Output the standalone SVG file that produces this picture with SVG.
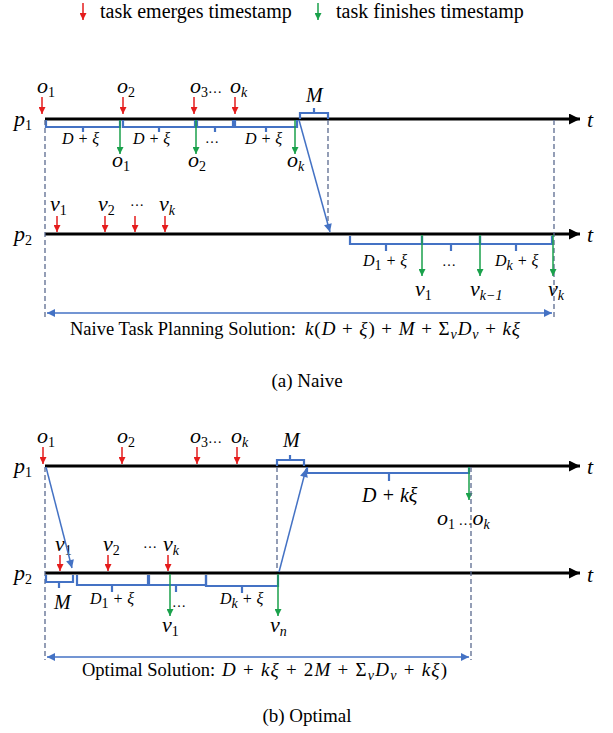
<svg xmlns="http://www.w3.org/2000/svg" width="613" height="733" viewBox="0 0 613 733">
<style>
text{font-family:"Liberation Serif","Times New Roman",serif;fill:#000}
.m{font-style:italic;font-size:22px}
.ms{font-style:italic;font-size:16px}
.ml{font-style:italic;font-size:20px}
.sub{font-style:normal;font-size:14px}
.subi{font-style:italic;font-size:14px}
.cap{font-size:18.5px}
.capm{font-size:19px}
.leg{font-size:20px}
.axis{stroke:#000;stroke-width:3;fill:none}
.red{stroke:#e51c1c;stroke-width:1.5;fill:none}
.grn{stroke:#1aa14b;stroke-width:1.5;fill:none}
.blue{stroke:#4472c4;stroke-width:1.5;fill:none}
.brace{stroke:#4472c4;stroke-width:2.2;fill:none}
.dash{stroke:#5b6a8f;stroke-width:1.3;stroke-dasharray:5 3;fill:none}
</style>
<defs>
<marker id="aR" viewBox="0 0 10 10" refX="10" refY="5" markerWidth="7" markerHeight="7" markerUnits="userSpaceOnUse" orient="auto"><path d="M0 0L10 5L0 10z" fill="#e51c1c"/></marker>
<marker id="aG" viewBox="0 0 10 10" refX="10" refY="5" markerWidth="7" markerHeight="7" markerUnits="userSpaceOnUse" orient="auto"><path d="M0 0L10 5L0 10z" fill="#1aa14b"/></marker>
<marker id="aB" viewBox="0 0 10 10" refX="10" refY="5" markerWidth="9" markerHeight="8" markerUnits="userSpaceOnUse" orient="auto-start-reverse"><path d="M0 0L10 5L0 10z" fill="#4472c4"/></marker>
<marker id="aK" viewBox="0 0 10 10" refX="10" refY="5" markerWidth="14" markerHeight="11" markerUnits="userSpaceOnUse" orient="auto"><path d="M0 0L10 5L0 10z" fill="#000"/></marker>
</defs>

<g id="legend">
<line class="red" x1="83" y1="3" x2="83" y2="20" marker-end="url(#aR)"/>
<text class="leg" x="100" y="18">task emerges timestamp</text>
<line class="grn" x1="318" y1="3" x2="318" y2="20" marker-end="url(#aG)"/>
<text class="leg" x="336" y="18">task finishes timestamp</text>
</g>

<g id="panel-a">
<g id="a-p1">
<line class="axis" x1="45" y1="119" x2="580" y2="119" marker-end="url(#aK)"/>
<text class="m" x="14" y="126">p<tspan class="sub" dy="4">1</tspan></text>
<text class="m" x="587" y="127">t</text>
<text class="m" x="37" y="93">o<tspan class="sub" dy="4">1</tspan></text>
<text class="m" x="117" y="93">o<tspan class="sub" dy="4">2</tspan></text>
<text class="m" x="190" y="93">o<tspan class="sub" dy="4">3</tspan><tspan class="sub" dy="-4">…</tspan></text>
<text class="m" x="230" y="93">o<tspan class="subi" dy="4">k</tspan></text>
<text class="ms" x="62" y="144">D + ξ</text>
<text class="ms" x="133" y="144">D + ξ</text>
<text class="sub" x="205" y="143">…</text>
<text class="ms" x="245" y="144">D + ξ</text>
<text class="m" x="112" y="167">o<tspan class="sub" dy="4">1</tspan></text>
<text class="m" x="188" y="167">o<tspan class="sub" dy="4">2</tspan></text>
<text class="m" x="287" y="167">o<tspan class="subi" dy="4">k</tspan></text>
<text class="ml" x="306" y="102">M</text>
</g>
<g id="a-p2">
<line class="axis" x1="45" y1="234" x2="580" y2="234" marker-end="url(#aK)"/>
<text class="m" x="14" y="241">p<tspan class="sub" dy="4">2</tspan></text>
<text class="m" x="587" y="242">t</text>
<text class="m" x="50" y="211">v<tspan class="sub" dy="4">1</tspan></text>
<text class="m" x="98" y="211">v<tspan class="sub" dy="4">2</tspan></text>
<text class="sub" x="130" y="206">…</text>
<text class="m" x="159" y="211">v<tspan class="subi" dy="4">k</tspan></text>
<text class="ms" x="363" y="266">D<tspan class="sub" dy="4">1</tspan><tspan dy="-4"> + ξ</tspan></text>
<text class="sub" x="442" y="266">…</text>
<text class="ms" x="495" y="266">D<tspan class="subi" dy="4">k</tspan><tspan dy="-4"> + ξ</tspan></text>
<text class="m" x="415" y="296">v<tspan class="sub" dy="4">1</tspan></text>
<text class="m" x="470" y="296">v<tspan class="subi" dy="4">k−1</tspan></text>
<text class="m" x="548" y="296">v<tspan class="subi" dy="4">k</tspan></text>
</g>
<g id="a-total">
<text class="cap" x="70" y="335">Naive Task Planning Solution:</text>
<text class="capm" x="305" y="335" textLength="215" lengthAdjust="spacing"><tspan font-style="italic">k</tspan>(<tspan font-style="italic">D</tspan> + <tspan font-style="italic">ξ</tspan>) + <tspan font-style="italic">M</tspan> + Σ<tspan class="subi" dy="4">v</tspan><tspan font-style="italic" dy="-4">D</tspan><tspan class="subi" dy="4">v</tspan><tspan dy="-4"> + </tspan><tspan font-style="italic">kξ</tspan></text>
<text class="capm" x="307" y="387" text-anchor="middle">(a)  Naive</text>
</g>
</g>

<g id="connectors-a">
<line class="red" x1="42" y1="97" x2="42" y2="114" marker-end="url(#aR)"/>
<line class="red" x1="123" y1="97" x2="123" y2="114" marker-end="url(#aR)"/>
<line class="red" x1="194" y1="97" x2="194" y2="114" marker-end="url(#aR)"/>
<line class="red" x1="235" y1="97" x2="235" y2="114" marker-end="url(#aR)"/>
<path class="brace" d="M46 120V127H120V120M83 127V132"/>
<path class="brace" d="M123 120V127H195V120M159 127V132"/>
<path class="brace" d="M197 120V127H233V120M215 127V132"/>
<path class="brace" d="M235 120V127H297V120M266 127V132"/>
<line class="grn" x1="120" y1="120" x2="120" y2="154" marker-end="url(#aG)"/>
<line class="grn" x1="196" y1="120" x2="196" y2="154" marker-end="url(#aG)"/>
<line class="grn" x1="295" y1="120" x2="295" y2="154" marker-end="url(#aG)"/>
<path class="brace" d="M300 119V113H328V119M314 113V108"/>
<line class="dash" x1="328" y1="120" x2="328" y2="233"/>
<line class="dash" x1="554" y1="120" x2="554" y2="317"/>
<line class="dash" x1="45" y1="120" x2="45" y2="317"/>
<line class="blue" x1="299" y1="120" x2="330" y2="232" marker-end="url(#aB)"/>
<line class="red" x1="57" y1="216" x2="57" y2="232" marker-end="url(#aR)"/>
<line class="red" x1="105" y1="216" x2="105" y2="232" marker-end="url(#aR)"/>
<line class="red" x1="135" y1="216" x2="135" y2="232" marker-end="url(#aR)"/>
<line class="red" x1="165" y1="216" x2="165" y2="232" marker-end="url(#aR)"/>
<path class="brace" d="M350 236V244H422V236M386 244V251"/>
<path class="brace" d="M422 236V244H480V236M451 244V251"/>
<path class="brace" d="M480 236V244H552V236M516 244V251"/>
<line class="grn" x1="422" y1="235" x2="422" y2="276" marker-end="url(#aG)"/>
<line class="grn" x1="480" y1="235" x2="480" y2="276" marker-end="url(#aG)"/>
<line class="grn" x1="553" y1="235" x2="553" y2="276" marker-end="url(#aG)"/>
<line class="blue" x1="47" y1="313" x2="552" y2="313" stroke-width="2" marker-start="url(#aB)" marker-end="url(#aB)"/>
</g>

<g id="panel-b">
<g id="b-p1">
<line class="axis" x1="45" y1="466" x2="580" y2="466" marker-end="url(#aK)"/>
<text class="m" x="14" y="473">p<tspan class="sub" dy="4">1</tspan></text>
<text class="m" x="587" y="474">t</text>
<text class="m" x="37" y="443">o<tspan class="sub" dy="4">1</tspan></text>
<text class="m" x="117" y="443">o<tspan class="sub" dy="4">2</tspan></text>
<text class="m" x="190" y="443">o<tspan class="sub" dy="4">3</tspan><tspan class="sub" dy="-4">…</tspan></text>
<text class="m" x="231" y="443">o<tspan class="subi" dy="4">k</tspan></text>
<text class="ml" x="283" y="447">M</text>
<text class="ml" x="362" y="502" font-size="21">D + kξ</text>
<text class="m" x="437" y="525">o<tspan class="sub" dy="4">1</tspan><tspan class="sub" dy="-4"> …</tspan><tspan>o</tspan><tspan class="subi" dy="4">k</tspan></text>
</g>
<g id="b-p2">
<line class="axis" x1="45" y1="573" x2="580" y2="573" marker-end="url(#aK)"/>
<text class="m" x="14" y="580">p<tspan class="sub" dy="4">2</tspan></text>
<text class="m" x="587" y="582">t</text>
<text class="m" x="55" y="551">v<tspan class="sub" dy="4">1</tspan></text>
<text class="m" x="103" y="551">v<tspan class="sub" dy="4">2</tspan></text>
<text class="sub" x="143" y="548">…</text>
<text class="m" x="163" y="551">v<tspan class="subi" dy="4">k</tspan></text>
<text class="ml" x="54" y="609">M</text>
<text class="ms" x="90" y="604">D<tspan class="sub" dy="4">1</tspan><tspan dy="-4"> + ξ</tspan></text>
<text class="ms" x="220" y="604">D<tspan class="subi" dy="4">k</tspan><tspan dy="-4"> + ξ</tspan></text>
<text class="sub" x="172" y="607">…</text>
<text class="m" x="162" y="632">v<tspan class="sub" dy="4">1</tspan></text>
<text class="m" x="270" y="632">v<tspan class="subi" dy="4">n</tspan></text>
</g>
<g id="b-total">
<text class="cap" x="82" y="676">Optimal Solution:</text>
<text class="capm" x="222" y="676" textLength="225" lengthAdjust="spacing"><tspan font-style="italic">D</tspan> + <tspan font-style="italic">kξ</tspan> + 2<tspan font-style="italic">M</tspan> + Σ<tspan class="subi" dy="4">v</tspan><tspan font-style="italic" dy="-4">D</tspan><tspan class="subi" dy="4">v</tspan><tspan dy="-4"> + </tspan><tspan font-style="italic">kξ</tspan>)</text>
<text class="capm" x="307" y="722" text-anchor="middle">(b)  Optimal</text>
</g>
</g>

<g id="connectors-b">
<line class="red" x1="43" y1="447" x2="43" y2="464" marker-end="url(#aR)"/>
<line class="red" x1="122" y1="447" x2="122" y2="464" marker-end="url(#aR)"/>
<line class="red" x1="197" y1="447" x2="197" y2="464" marker-end="url(#aR)"/>
<line class="red" x1="237" y1="447" x2="237" y2="464" marker-end="url(#aR)"/>
<path class="brace" d="M277 466V460H304V466M290 460V455"/>
<line class="dash" x1="277" y1="467" x2="277" y2="572"/>
<line class="blue" x1="279" y1="572" x2="306" y2="469" marker-end="url(#aB)"/>
<path class="brace" d="M307 467V473H469V467M389 473V481"/>
<line class="grn" x1="469" y1="467" x2="469" y2="500" marker-end="url(#aG)"/>
<line class="dash" x1="471" y1="467" x2="471" y2="660"/>
<line class="dash" x1="45" y1="467" x2="45" y2="660"/>
<line class="blue" x1="46" y1="467" x2="72" y2="568" marker-end="url(#aB)"/>
<line class="red" x1="60" y1="555" x2="60" y2="571" marker-end="url(#aR)"/>
<line class="red" x1="108" y1="555" x2="108" y2="571" marker-end="url(#aR)"/>
<line class="red" x1="168" y1="555" x2="168" y2="571" marker-end="url(#aR)"/>
<path class="brace" d="M46 575V582H73V575M59 582V588"/>
<path class="brace" d="M77 575V585H148V575M112 585V592"/>
<path class="brace" d="M149 575V585H206V575M176 585V592"/>
<path class="brace" d="M206 575V586H278V575M242 586V593"/>
<line class="grn" x1="170" y1="574" x2="170" y2="616" marker-end="url(#aG)"/>
<line class="grn" x1="278" y1="574" x2="278" y2="616" marker-end="url(#aG)"/>
<line class="blue" x1="47" y1="657" x2="469" y2="657" stroke-width="2" marker-start="url(#aB)" marker-end="url(#aB)"/>
</g>
</svg>
